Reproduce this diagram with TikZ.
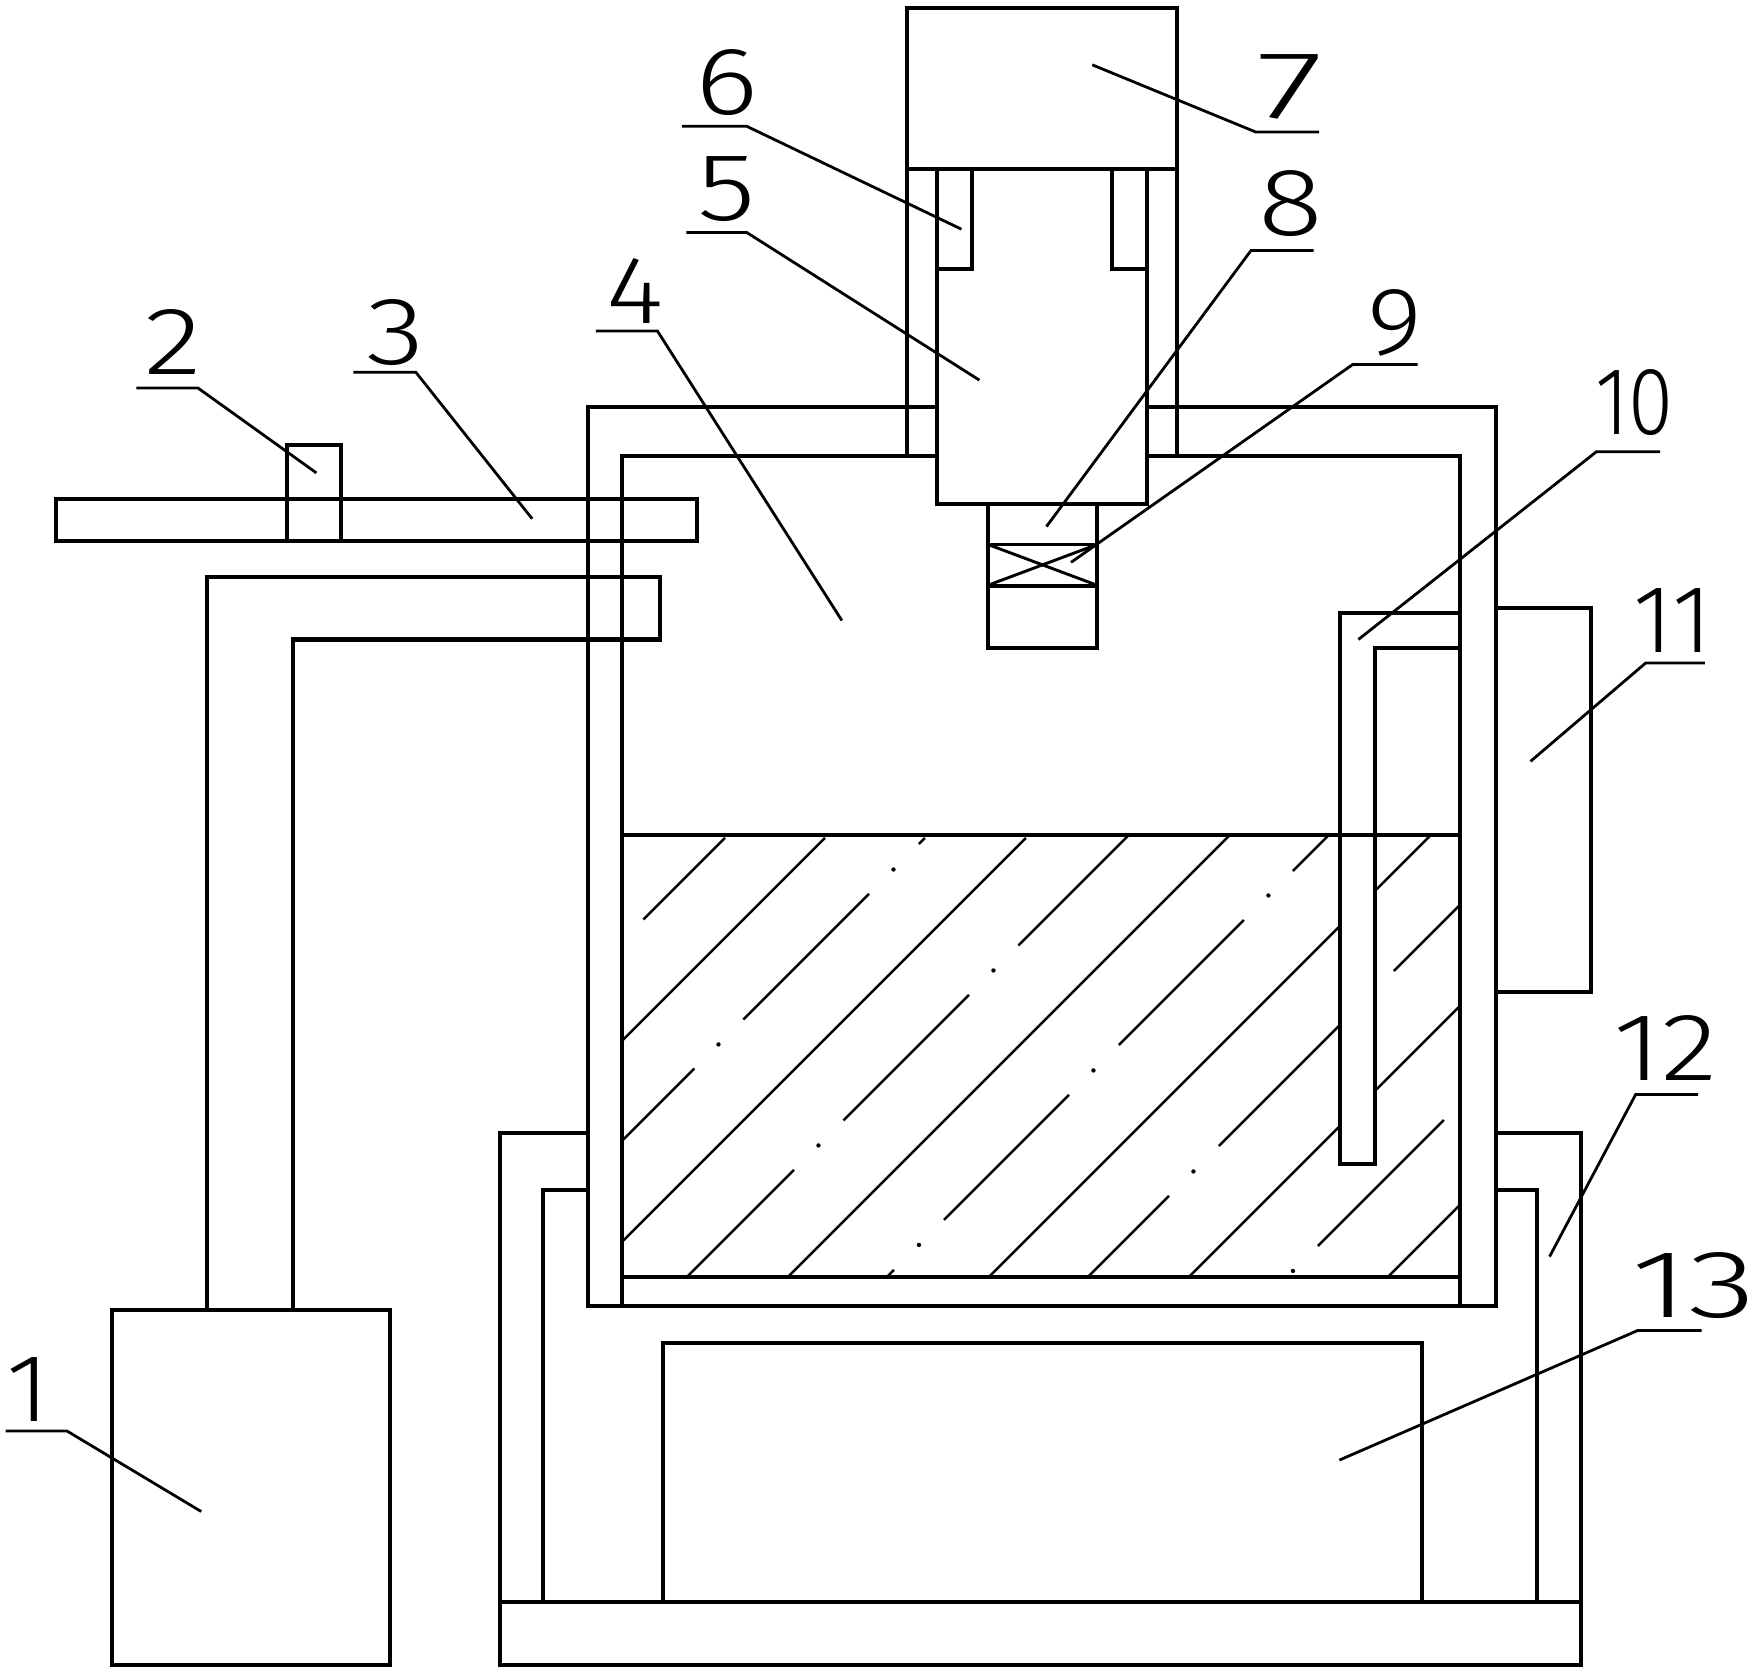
\documentclass[tikz,border=0pt]{standalone}
\usepackage{fontspec}
\usepackage{graphicx}
\setmainfont{Fira Sans Light}
\newcommand{\dgt}[2]{\scalebox{#1}[1]{#2}}
\tikzset{
  part/.style={draw=black,line width=1.8pt,line join=miter},
  pipe/.style={part,fill=white},
  thinline/.style={draw=black,line width=1.3pt},
  leader/.style={draw=black,line width=1.25pt},
  hatch/.style={draw=black,line width=1.15pt},
  digit/.style={inner sep=0pt,font=\fontsize{43}{43}\selectfont},
  dotmark/.style={fill=black,draw=none}
}
\begin{document}
\begin{tikzpicture}[x=0.5pt,y=-0.5pt]
\useasboundingbox (0,0) rectangle (1568,1493.8);
\fill[white] (0,0) rectangle (1568,1493.8);
% hatching, in pixels of the reference
\begin{scope}[x=0.4472pt,y=-0.4472pt]
\foreach \ax/\ay/\bx/\by in {
 643.4/919.6/725/838,
 623/1040/825/838,
 623/1140/694.4/1068.6, 743.4/1019.6/869/894, 919/844/925/838,
 623/1241/1026/838,
 688/1276/794/1170, 843.5/1120.5/969/995, 1018.5/945.5/1128/836,
 789/1276/1229/836,
 888/1276/894/1270, 944/1220/1069/1095, 1119/1045/1244/920, 1293/871/1328/836,
 990/1276/1430/836,
 1089/1276/1169/1196, 1219/1146/1344/1021, 1394/971/1460/905,
 1190/1276/1460/1006,
 1318/1246/1444/1120,
 1389/1276/1460/1205}
  {\draw[hatch] (\ax,\ay) -- (\bx,\by);}
\foreach \ax/\ay in {718.5/1044.5,893.5/869.5,818.5/1145.5,993.5/970.5,919/1245,1093.5/1070.5,1268.5/895.5,1193.5/1171.5,1293/1271}
  {\fill[dotmark] (\ax,\ay) circle (2.2);}
\end{scope}
% part 1 and its pipe
\draw[part] (100,1172) rectangle (349,1489);
\draw[part] (185,1172) -- (185,516) -- (590,516) -- (590,572) -- (262,572) -- (262,1172);
% parts 2, 3
\draw[part] (50,446) rectangle (623,484);
\draw[part] (257,398) rectangle (305,484);
% pipe 10
\draw[pipe] (1306,548) -- (1199,548) -- (1199,1041) -- (1230,1041) -- (1230,580) -- (1306,580);
% tank
\draw[part] (838,364) -- (526,364) -- (526,1168) -- (1338,1168) -- (1338,364) -- (1026,364);
\draw[part] (838,408) -- (556,408) -- (556,1168);
\draw[part] (1026,408) -- (1306,408) -- (1306,1168);
\draw[part] (556,1142) -- (1306,1142);
\draw[part] (556,747) -- (1306,747);
% top: 7, 5, 6, 8, 9
\draw[part] (811,7) rectangle (1053,151);
\draw[part] (811,151) -- (811,408);
\draw[part] (1053,151) -- (1053,408);
\draw[part] (838,151) -- (838,451) -- (1026,451) -- (1026,151);
\draw[part] (838,241) -- (869,241) -- (869,151);
\draw[part] (1026,241) -- (995,241) -- (995,151);
\draw[part] (883.5,451) -- (883.5,580) -- (981,580) -- (981,451);
\draw[thinline] (883.5,487) -- (981,487);
\draw[part] (883.5,524) -- (981,524);
\draw[thinline] (885,487.5) -- (980,523);
\draw[thinline] (885,523) -- (980,487.5);
% 11
\draw[part] (1338,544) -- (1423,544) -- (1423,887) -- (1338,887);
% base 12, 13
\draw[part] (447,1433) rectangle (1414,1489);
\draw[part] (526,1013) -- (447,1013) -- (447,1433);
\draw[part] (526,1064) -- (486,1064) -- (486,1433);
\draw[part] (1338,1013) -- (1414,1013) -- (1414,1433);
\draw[part] (1338,1064) -- (1375,1064) -- (1375,1433);
\draw[part] (593,1433) -- (593,1201) -- (1272,1201) -- (1272,1433);
% labels
\node[digit] (n1) at (25,1243) {\dgt{1.1}{1}};
\node[digit] (n2) at (155,306) {\dgt{1.25}{2}};
\node[digit] (n3) at (354,297) {\dgt{1.25}{3}};
\node[digit] (n4) at (568,260) {\dgt{1.15}{4}};
\node[digit] (n5) at (650,169) {\dgt{1.25}{5}};
\node[digit] (n6) at (650,74) {\dgt{1.25}{6}};
\node[digit] (n7) at (1154,78) {\dgt{1.6}{7}};
\node[digit] (n8) at (1155,182) {\dgt{1.25}{8}};
\node[digit] (n9) at (1248,289) {\dgt{1.1}{9}};
\node[digit] (n10) at (1462,360) {\dgt{0.85}{10}};
\node[digit] (n11) at (1496,555) {\dgt{1.0}{11}};
\node[digit] (n12) at (1490,937) {\dgt{1.22}{12}};
\node[digit] (n13) at (1515,1150) {\dgt{1.45}{13}};
% leaders
\foreach \name/\tx/\ty/\ex/\ey/\fx in {
  1/180/1352/60/1280/5,
  2/283/423/177/347/122,
  3/476/464/372/333/316,
  4/753/555/588/296/533,
  5/876/340/668/208/614,
  6/860/205/668/113/610,
  7/977/58/1123/118/1180,
  8/936/471/1119/224/1175,
  9/958/503/1210/326/1268,
  10/1215/572/1428/404/1485,
  11/1369/681/1472/593/1525,
  12/1386/1124/1463/979/1519,
  13/1198/1306/1465/1190/1522}
{
  \coordinate (tip\name) at (\tx,\ty);
  \coordinate (elbow\name) at (\ex,\ey);
  \coordinate (end\name) at (\fx,\ey);
  \draw[leader] (tip\name) -- (elbow\name) -- (end\name);
}
\end{tikzpicture}
\end{document}
